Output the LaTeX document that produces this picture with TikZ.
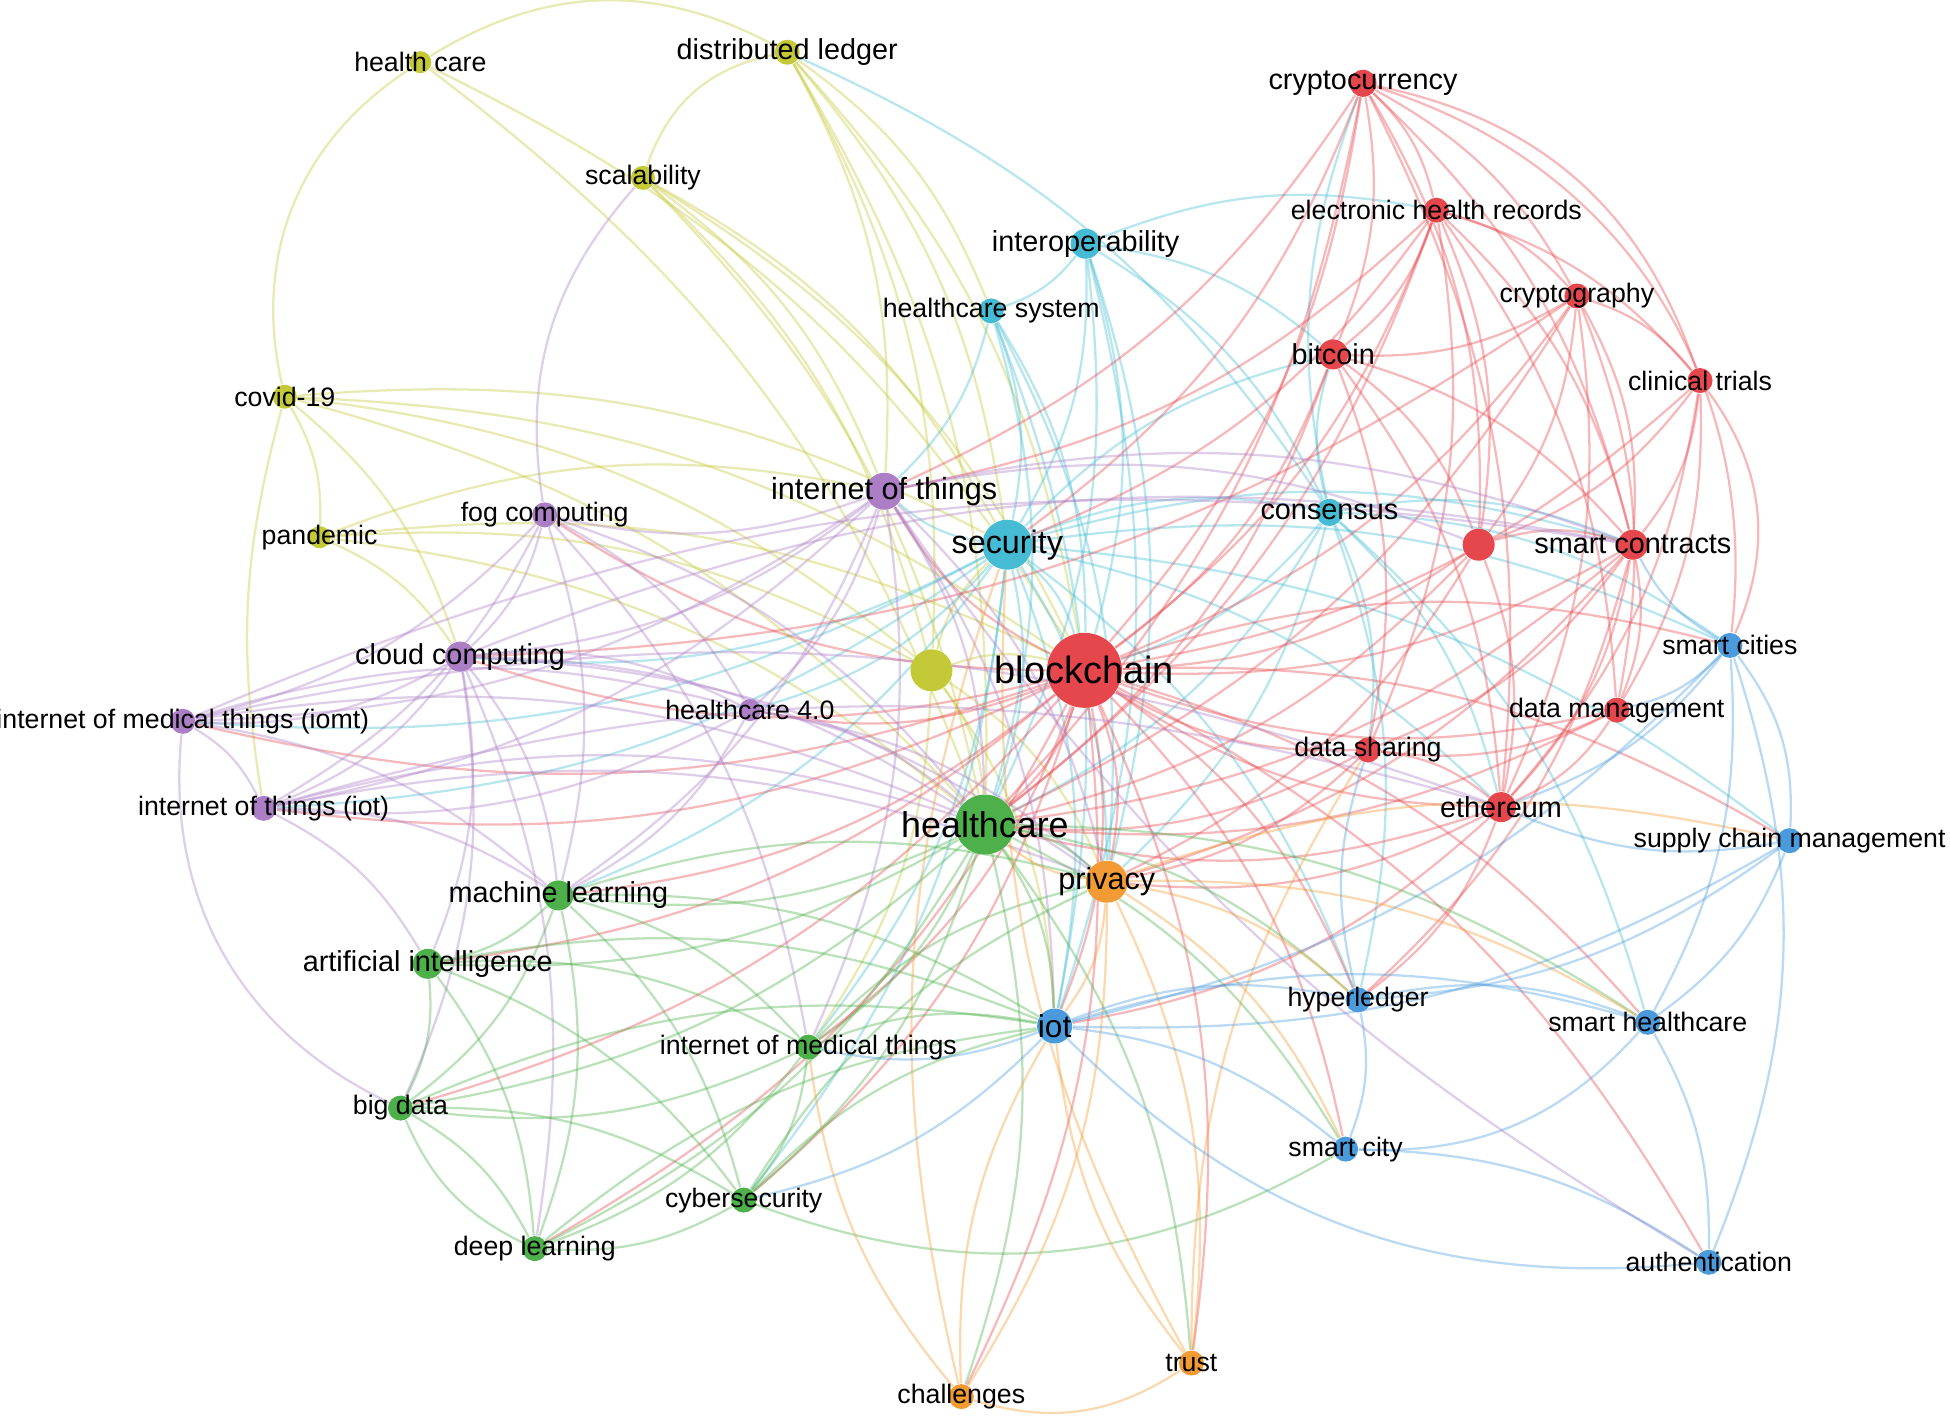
\documentclass[tikz,border=0pt]{standalone}
\usepackage{fontspec}
\setmainfont{Liberation Sans}
\usetikzlibrary{backgrounds}
\definecolor{cyel}{HTML}{C4C937}
\definecolor{ccya}{HTML}{45BCD4}
\definecolor{cred}{HTML}{E6474D}
\definecolor{cpur}{HTML}{AB7EC6}
\definecolor{cgrn}{HTML}{4DB04A}
\definecolor{cora}{HTML}{F29A33}
\definecolor{cblu}{HTML}{4A9ADC}
\begin{document}
\begin{tikzpicture}[x=0.012436cm, y=-0.012436cm,
  dot/.style={circle, inner sep=0pt, minimum size=#1},
  lbls/.style={font=\fontsize{7.6}{8}\selectfont},
  lblm/.style={font=\fontsize{8.2}{9}\selectfont},
  lbll/.style={font=\fontsize{8.7}{9}\selectfont},
  link/.style={line width=0.65pt, opacity=0.38, bend left=#1},
  link/.default=16]
\useasboundingbox (0,0) rectangle (1568,1140);

% yellow cluster
\node[dot=0.22cm, fill=cyel, label={[lbls]center:health care}] (1) at (338,50) {};
\node[dot=0.25cm, fill=cyel, label={[lblm]center:distributed ledger}] (2) at (633,42) {};
\node[dot=0.24cm, fill=cyel, label={[lbls]center:scalability}] (3) at (517,143) {};
\node[dot=0.24cm, fill=cyel, label={[lbls]center:covid-19}] (4) at (229,319) {};
\node[dot=0.22cm, fill=cyel, label={[lbls]center:pandemic}] (5) at (257,432) {};
\node[dot=0.42cm, fill=cyel] (6) at (749,539) {};

% cyan cluster
\node[dot=0.3cm, fill=ccya, label={[lblm]center:interoperability}] (7) at (873,196) {};
\node[dot=0.25cm, fill=ccya, label={[lbls]center:healthcare system}] (8) at (797,250) {};
\node[dot=0.5cm, fill=ccya, label={[font=\fontsize{9.2}{10}\selectfont]center:security}] (9) at (810,438) {};
\node[dot=0.27cm, fill=ccya, label={[lblm]center:consensus}] (10) at (1069,412) {};

% red cluster
\node[dot=0.27cm, fill=cred, label={[lblm]center:cryptocurrency}] (11) at (1096,67) {};
\node[dot=0.25cm, fill=cred, label={[lbls]center:electronic health records}] (12) at (1155,169) {};
\node[dot=0.25cm, fill=cred, label={[lbls]center:cryptography}] (13) at (1268,238) {};
\node[dot=0.3cm, fill=cred, label={[lblm]center:bitcoin}] (14) at (1072,285) {};
\node[dot=0.25cm, fill=cred, label={[lbls]center:clinical trials}] (15) at (1367,306) {};
\node[dot=0.32cm, fill=cred] (16) at (1189,438) {};
\node[dot=0.3cm, fill=cred, label={[lblm]center:smart contracts}] (17) at (1313,438) {};
\node[dot=0.25cm, fill=cred, label={[lbls]center:data management}] (18) at (1300,571) {};
\node[dot=0.25cm, fill=cred, label={[lbls]center:data sharing}] (19) at (1100,603) {};
\node[dot=0.3cm, fill=cred, label={[lblm]center:ethereum}] (20) at (1207,649) {};
\node[dot=0.75cm, fill=cred, label={[font=\fontsize{10.8}{12}\selectfont]center:blockchain}] (21) at (872,539) {};

% purple cluster
\node[dot=0.37cm, fill=cpur, label={[lbll]center:internet of things}] (22) at (711,395) {};
\node[dot=0.25cm, fill=cpur, label={[lbls]center:fog computing}] (23) at (438,414) {};
\node[dot=0.3cm, fill=cpur, label={[lblm]center:cloud computing}] (24) at (370,528) {};
\node[dot=0.25cm, fill=cpur, label={[lbls]center:internet of medical things (iomt)}] (25) at (147,580) {};
\node[dot=0.22cm, fill=cpur, label={[lbls]center:healthcare 4.0}] (26) at (603,571) {};
\node[dot=0.25cm, fill=cpur, label={[lbls]center:internet of things (iot)}] (27) at (212,650) {};

% green cluster
\node[dot=0.6cm, fill=cgrn, label={[font=\fontsize{10.2}{11}\selectfont]center:healthcare}] (28) at (792,663) {};
\node[dot=0.3cm, fill=cgrn, label={[lblm]center:machine learning}] (29) at (449,720) {};
\node[dot=0.3cm, fill=cgrn, label={[lblm]center:artificial intelligence}] (30) at (344,775) {};
\node[dot=0.25cm, fill=cgrn, label={[lbls]center:internet of medical things}] (31) at (650,842) {};
\node[dot=0.25cm, fill=cgrn, label={[lbls]center:big data}] (32) at (322,891) {};
\node[dot=0.25cm, fill=cgrn, label={[lbls]center:cybersecurity}] (33) at (598,965) {};
\node[dot=0.25cm, fill=cgrn, label={[lbls]center:deep learning}] (34) at (430,1004) {};

% orange cluster
\node[dot=0.42cm, fill=cora, label={[lbll]center:privacy}] (35) at (890,709) {};
\node[dot=0.25cm, fill=cora, label={[lbls]center:challenges}] (36) at (773,1123) {};
\node[dot=0.25cm, fill=cora, label={[lbls]center:trust}] (37) at (958,1096) {};

% blue cluster
\node[dot=0.25cm, fill=cblu, label={[lbls]center:smart cities}] (38) at (1391,519) {};
\node[dot=0.25cm, fill=cblu, label={[lbls]center:supply chain management}] (39) at (1439,676) {};
\node[dot=0.35cm, fill=cblu, label={[font=\fontsize{9}{10}\selectfont]center:iot}] (40) at (848,825) {};
\node[dot=0.25cm, fill=cblu, label={[lbls]center:hyperledger}] (41) at (1092,804) {};
\node[dot=0.25cm, fill=cblu, label={[lbls]center:smart healthcare}] (42) at (1325,822) {};
\node[dot=0.25cm, fill=cblu, label={[lbls]center:smart city}] (43) at (1082,924) {};
\node[dot=0.25cm, fill=cblu, label={[lbls]center:authentication}] (44) at (1374,1015) {};

\begin{scope}[on background layer]
% links, coloured by the first node
\foreach \from/\to in {1/21,1/28,2/21,2/28,2/9,2/22,2/6,2/8,3/21,3/28,3/6,3/22,3/9,
  4/5,4/24,4/21,4/28,4/6,4/9,5/24,5/28,5/21,5/6,5/22,6/21,6/28,6/9,6/35,6/31,6/40}
  \draw[link, cyel] (\from) to (\to);
\foreach \from/\to/\b in {1/2/30,4/1/35,3/2/30,27/4/12}
  \draw[link=\b, cyel] (\from) to (\to);
\foreach \from/\to in {7/21,7/9,7/8,7/28,7/10,7/12,7/35,7/40,7/14,8/21,8/9,8/28,8/40,
  8/35,8/22,9/21,9/28,9/35,9/40,9/22,9/24,9/29,9/31,9/17,9/10,9/20,9/14,9/26,9/27,9/25,
  9/33,9/38,9/39,9/41,10/21,10/14,10/17,10/20,10/28,10/35,10/41,10/19,10/11,10/38,10/42,2/10}
  \draw[link, ccya] (\from) to (\to);
\foreach \from/\to in {11/12,11/14,11/13,11/17,11/20,11/21,11/16,11/28,11/9,11/22,
  12/13,12/14,12/17,12/21,12/18,12/19,12/16,12/28,12/15,12/9,12/22,13/15,13/17,13/21,
  13/20,13/16,13/18,13/14,13/28,13/24,14/21,14/17,14/20,14/16,14/28,14/19,15/17,15/21,
  15/20,15/16,15/18,16/21,16/17,16/20,16/28,16/35,17/21,17/20,17/18,17/19,17/28,17/35,
  17/41,18/21,18/20,18/19,18/28,19/21,19/28,19/35,19/20,20/21,20/28,20/35,20/41,20/40,
  21/22,21/23,21/24,21/25,21/26,21/27,21/29,21/30,21/31,21/32,21/33,21/34,21/35,21/36,
  21/37,21/40,21/41,21/42,21/43,21/44,21/28,21/38,21/39}
  \draw[link, cred] (\from) to (\to);
\foreach \from/\to/\b in {11/15/30,15/38/30,11/38/40}
  \draw[link=\b, cred] (\from) to (\to);
\foreach \from/\to in {22/24,22/23,22/26,22/27,22/25,22/28,22/29,22/40,22/35,22/17,
  22/16,22/31,23/24,23/25,23/28,23/29,23/31,23/27,23/26,24/25,24/27,24/28,24/29,24/30,
  24/32,24/34,24/26,24/35,24/17,25/27,25/28,25/29,25/26,25/17,25/20,26/28,26/27,26/29,
  26/35,27/28,27/29,27/30,27/20,27/35}
  \draw[link, cpur] (\from) to (\to);
\foreach \from/\to/\b in {32/25/35,23/3/25,22/44/-12}
  \draw[link=\b, cpur] (\from) to (\to);
\foreach \from/\to in {28/29,28/30,28/31,28/32,28/33,28/34,28/35,28/36,28/37,28/40,
  28/41,28/43,28/42,29/30,29/31,29/32,29/33,29/34,29/35,29/40,30/32,30/34,30/33,30/31,
  30/40,31/33,31/34,31/32,31/40,31/35,32/34,32/33,32/40,33/34,33/40,33/35,34/40}
  \draw[link, cgrn] (\from) to (\to);
\foreach \from/\to/\b in {34/32/20,43/33/25}
  \draw[link=\b, cgrn] (\from) to (\to);
\foreach \from/\to in {35/36,35/37,35/40,35/41,35/43,35/28,35/42,35/39,36/40,36/31,
  36/9,37/40,37/19,37/9}
  \draw[link, cora] (\from) to (\to);
\foreach \from/\to/\b in {37/36/25}
  \draw[link=\b, cora] (\from) to (\to);
\foreach \from/\to in {38/42,38/17,38/40,38/20,38/18,39/42,39/40,39/41,39/20,40/41,
  40/42,40/43,41/43,41/42,43/44,40/31,40/33,41/19}
  \draw[link, cblu] (\from) to (\to);
\foreach \from/\to/\b in {38/39/20,42/44/15,38/44/20,44/40/25,42/43/25}
  \draw[link=\b, cblu] (\from) to (\to);
\end{scope}
\end{tikzpicture}
\end{document}
